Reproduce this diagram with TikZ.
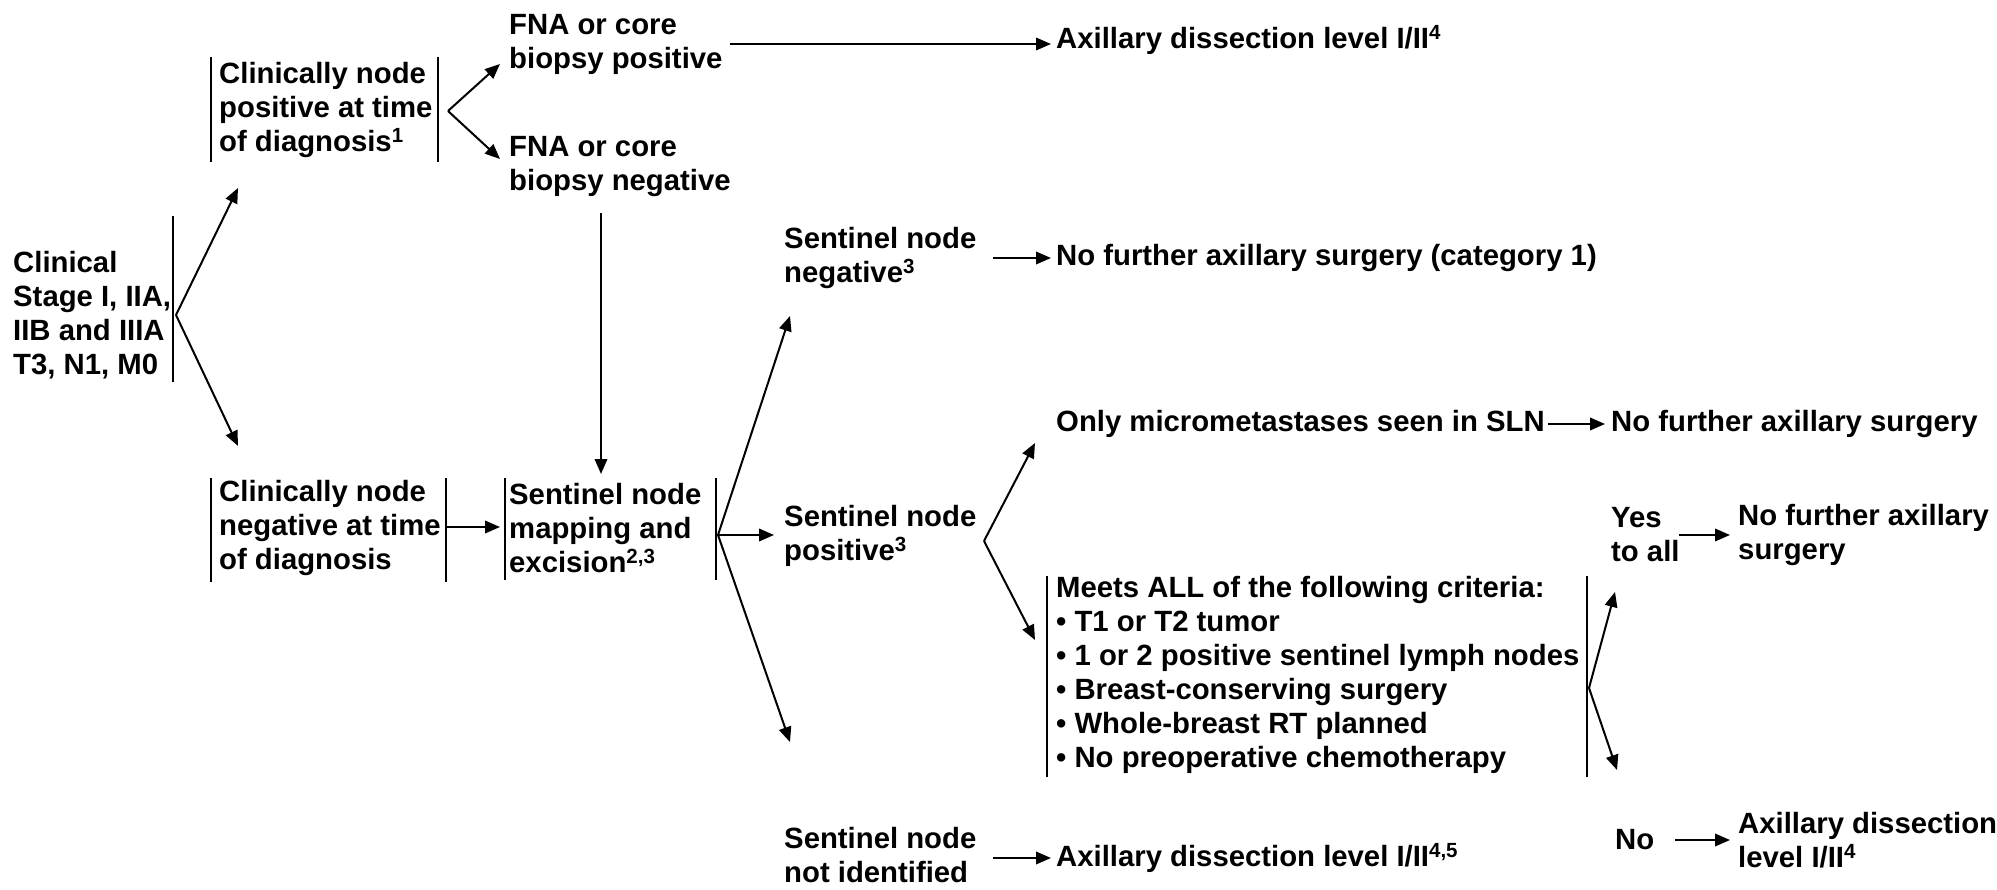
\documentclass[tikz,border=0pt]{standalone}
\usepackage{fontspec}
\setmainfont{Liberation Sans}
\usetikzlibrary{arrows.meta}
\newcommand\diafont{\fontsize{29.3}{34}\selectfont\bfseries\lineskiplimit=-50pt\relax}
\begin{document}
\begin{tikzpicture}[x=1pt,y=-1pt,
  txt/.style={anchor=west, align=left, inner sep=0pt, font=\diafont},
  arr/.style={line width=2pt, -{Triangle[length=15pt,width=12.5pt]}},
  bar/.style={line width=2pt}]
\useasboundingbox (0,0) rectangle (1997,890);

% text nodes
\node[txt] (fnapos) at (509,44) {FNA or core\\biopsy positive};
\node[txt] (axtop) at (1056,40) {Axillary dissection level I/II\textsuperscript{4}};
\node[txt] (cnp) at (219,110) {Clinically node\\positive at time\\of diagnosis\textsuperscript{1}};
\node[txt] (fnaneg) at (509,167) {FNA or core\\biopsy negative};
\node[txt] (stage) at (13,315) {Clinical\\Stage I, IIA,\\IIB and IIIA\\T3, N1, M0};
\node[txt] (cnn) at (219,528) {Clinically node\\negative at time\\of diagnosis};
\node[txt] (snm) at (509,528) {Sentinel node\\mapping and\\excision\textsuperscript{2,3}};
\node[txt] (snneg) at (784,258) {Sentinel node\\negative\textsuperscript{3}};
\node[txt] (nofur1) at (1056,258) {No further axillary surgery (category 1)};
\node[txt] (snpos) at (784,536) {Sentinel node\\positive\textsuperscript{3}};
\node[txt] (micro) at (1056,424) {Only micrometastases seen in SLN};
\node[txt] (nofur2) at (1611,424) {No further axillary surgery};
\node[txt] (crit) at (1056,675) {Meets ALL of the following criteria:\\
  • T1 or T2 tumor\\
  • 1 or 2 positive sentinel lymph nodes\\
  • Breast-conserving surgery\\
  • Whole-breast RT planned\\
  • No preoperative chemotherapy};
\node[txt] (yes) at (1611,535) {Yes\\to all};
\node[txt] (nofur3) at (1738,535) {No further axillary\\surgery};
\node[txt] (no) at (1615,840) {No};
\node[txt] (axno) at (1738,840) {Axillary dissection\\level I/II\textsuperscript{4}};
\node[txt] (snni) at (784,855) {Sentinel node\\not identified};
\node[txt] (axni) at (1056,858) {Axillary dissection level I/II\textsuperscript{4,5}};

% bars
\draw[bar] (173,216) -- (173,382);
\draw[bar] (211,57) -- (211,162);
\draw[bar] (438,57) -- (438,162);
\draw[bar] (211,478) -- (211,582);
\draw[bar] (446,478) -- (446,582);
\draw[bar] (505,478) -- (505,580);
\draw[bar] (716,478) -- (716,580);
\draw[bar] (1047,576) -- (1047,777);
\draw[bar] (1587,576) -- (1587,777);

% branch points
\coordinate (s0) at (176,315);
\coordinate (p0) at (448,111);
\coordinate (m0) at (718,535);
\coordinate (q0) at (984,541);
\coordinate (c0) at (1589,688);

% connectors
\draw[arr] (s0) -- (238,188);
\draw[arr] (s0) -- (238,446);
\draw[arr] (p0) -- (500,64);
\draw[arr] (p0) -- (500,159);
\draw[arr] ([xshift=7]fnapos.east) -- ([xshift=-5]fnapos.east -| axtop.west);
\draw[arr] (601,213) -- (601,474);
\draw[arr] (446,527) -- (500,527);
\draw[arr] (m0) -- (790,316);
\draw[arr] (m0) -- (774,535);
\draw[arr] (m0) -- (790,742);
\draw[arr] (993,258) -- ([xshift=-5]nofur1.west);
\draw[arr] (q0) -- (1035,443);
\draw[arr] (q0) -- (1035,640);
\draw[arr] ([xshift=3]micro.east) -- ([xshift=-6]nofur2.west);
\draw[arr] (c0) -- (1615,592);
\draw[arr] (c0) -- (1617,770);
\draw[arr] (1679,535) -- ([xshift=-8]nofur3.west);
\draw[arr] (1675,840) -- ([xshift=-8]axno.west);
\draw[arr] (993,858) -- ([xshift=-5]axni.west);
\end{tikzpicture}
\end{document}
